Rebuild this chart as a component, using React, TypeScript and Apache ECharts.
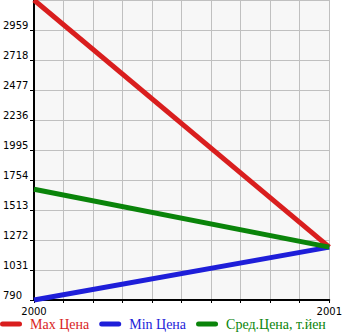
import React, { useEffect, useRef } from "react";
import * as echarts from "echarts";

const xYears = [2000, 2001];
const maxPrice = [3200, 1215];
const minPrice = [790, 1215];
const avgPrice = [1680, 1215];
const seriesNames = ["Max Цена", "Min Цена", "Сред.Цена, т.йен"];
const seriesColors = ["#d91e1e", "#1e1ed9", "#0a840a"];
const yMin = 790;
const yMax = 3200;
const yStep = 241;

export default function App() {
  const ref = useRef<HTMLDivElement>(null);
  useEffect(() => {
    document.body.style.margin = "0";
    if (!ref.current) return;
    const chart = echarts.init(ref.current, null, { renderer: "svg" });
    const allData = [maxPrice, minPrice, avgPrice];
    const option = {
      animation: false,
      backgroundColor: "#ffffff",
      grid: {
        left: 31,
        right: 14,
        top: 0,
        bottom: 35,
        show: true,
        backgroundColor: "#f7f7f7",
        borderWidth: 0,
      },
      legend: {
        left: 0,
        top: 317,
        padding: 0,
        itemWidth: 22,
        itemHeight: 5,
        itemGap: 10,
        icon: "path://M2.5,0 H19.5 A2.5,2.5 0 0 1 19.5,5 H2.5 A2.5,2.5 0 0 1 2.5,0 Z",
        data: seriesNames.map((n, i) => ({
          name: n,
          textStyle: { color: seriesColors[i] },
        })),
        textStyle: {
          fontFamily: "Liberation Serif",
          fontSize: 14,
          lineHeight: 14,
          padding: [0, 0, 0, 3],
        },
      },
      xAxis: {
        type: "value",
        min: xYears[0],
        max: xYears[xYears.length - 1],
        interval: 0.1,
        axisLine: { show: true, lineStyle: { color: "#000", width: 2 } },
        axisTick: { show: true, length: 3, lineStyle: { color: "#000" } },
        splitLine: { show: true, lineStyle: { color: "#c0c0c0", width: 1 } },
        axisLabel: {
          color: "#000",
          fontFamily: "DejaVu Sans",
          fontSize: 10,
          lineHeight: 10,
          margin: 6,
          formatter: (v: number) =>
            Math.abs(v - Math.round(v)) < 1e-6 ? String(Math.round(v)) : "",
        },
      },
      yAxis: {
        type: "value",
        min: 0,
        max: yMax - yMin,
        interval: yStep,
        axisLine: { show: true, lineStyle: { color: "#000", width: 2 } },
        axisTick: { show: true, length: 4, lineStyle: { color: "#000" } },
        splitLine: { show: true, lineStyle: { color: "#c0c0c0", width: 1 } },
        axisLabel: {
          color: "#000",
          fontFamily: "DejaVu Sans",
          fontSize: 10,
          align: "left",
          verticalAlign: "bottom",
          margin: 31,
          showMaxLabel: false,
          formatter: (v: number) => String(Math.round(v + yMin)),
        },
      },
      series: seriesNames.map((n, i) => ({
        name: n,
        type: "line",
        showSymbol: false,
        symbol: "none",
        clip: false,
        color: seriesColors[i],
        lineStyle: { width: 5, color: seriesColors[i] },
        data: xYears.map((x, j) => [x, allData[i][j] - yMin]),
        z: 2 + i,
      })),
    };
    chart.setOption(option as any);
    return () => chart.dispose();
  }, []);
  return <div ref={ref} style={{ width: 345, height: 335 }} />;
}
